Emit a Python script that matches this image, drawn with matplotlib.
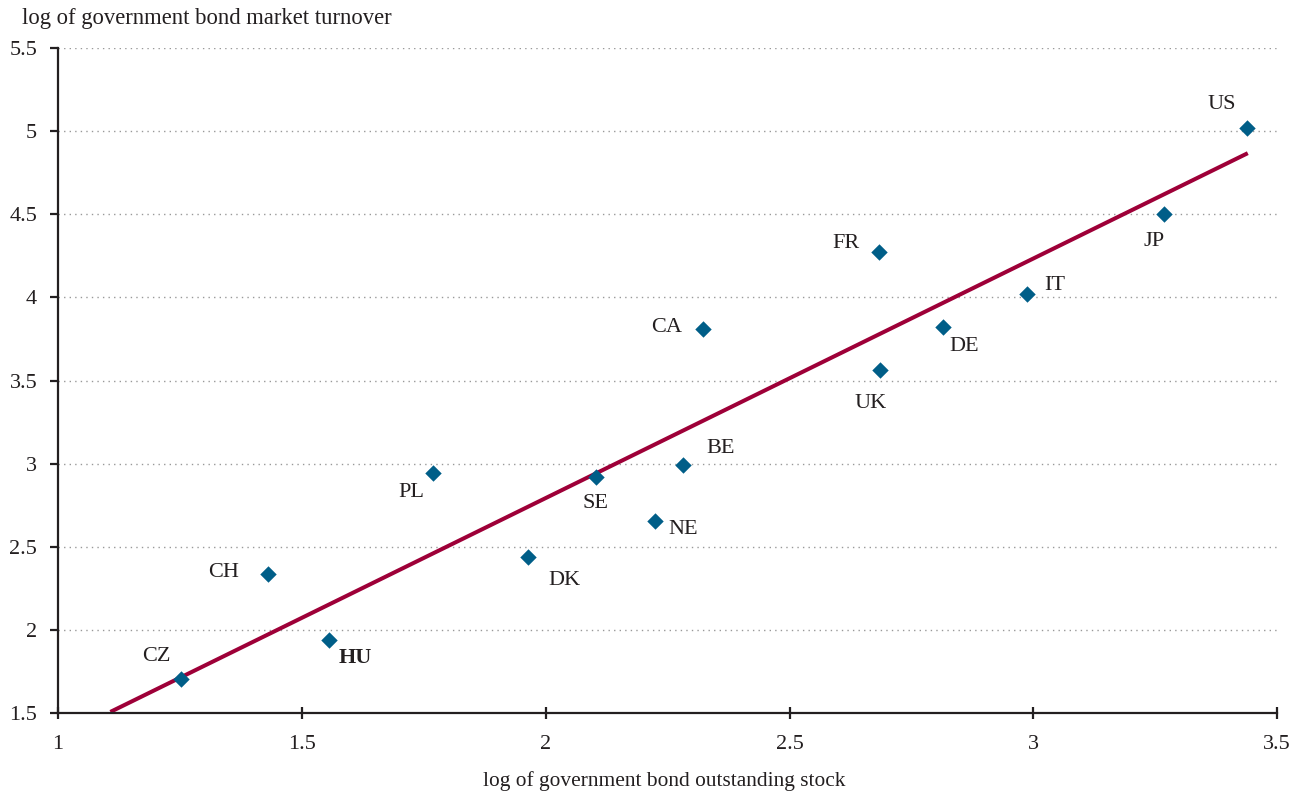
import numpy as np
import matplotlib.pyplot as plt

plt.rcParams['font.family'] = ['Liberation Serif', 'DejaVu Serif']

# data
countries = ['US', 'JP', 'FR', 'IT', 'DE', 'UK', 'CA', 'BE', 'SE', 'NE',
             'PL', 'DK', 'CH', 'HU', 'CZ']
stock = [3.438, 3.268, 2.684, 2.987, 2.815, 2.686, 2.323, 2.282, 2.103, 2.224,
         1.769, 1.964, 1.431, 1.556, 1.252]
turnover = [5.019, 4.502, 4.273, 4.020, 3.822, 3.563, 3.810, 2.992, 2.920, 2.655,
            2.944, 2.438, 2.336, 1.939, 1.705]
# trend line as drawn in the reference (slope, intercept, x range)
trend_k, trend_b = 1.441, -0.089
trend_x = [1.111, 3.436]

# label offsets in points
offsets = {'US': (-18, 17), 'JP': (-7, -20), 'FR': (-24, 6), 'IT': (20, 6),
           'DE': (15, -14), 'UK': (-7, -24), 'CA': (-26, 1), 'BE': (27, 12),
           'SE': (0, -19), 'NE': (20, -6), 'PL': (-16, -14), 'DK': (26, -17),
           'CH': (-32, 1), 'HU': (19, -13), 'CZ': (-18, 16)}

fig = plt.figure(figsize=(12.99, 7.94), dpi=100)
ax = fig.add_axes([0.0447, 0.102, 0.9385, 0.8375])

tx = np.array(trend_x)
ax.plot(tx, trend_k * tx + trend_b, color='#9e0038', lw=2.9, zorder=2)

ax.scatter(stock, turnover, marker='D', s=70, color='#005e88', zorder=3, linewidths=0)

for c, xv, yv in zip(countries, stock, turnover):
    dx, dy = offsets[c]
    ax.annotate(c, (xv, yv), xytext=(dx, dy), textcoords='offset points',
                ha='center', va='center', fontsize=16, color='#231f20',
                fontweight='bold' if c == 'HU' else 'normal')

ax.set_xlim(1, 3.5)
ax.set_ylim(1.5, 5.5)
ax.set_xticks([1, 1.5, 2, 2.5, 3, 3.5])
ax.set_xticklabels(['1', '1.5', '2', '2.5', '3', '3.5'])
ax.set_yticks([1.5, 2, 2.5, 3, 3.5, 4, 4.5, 5, 5.5])
ax.set_yticklabels(['1.5', '2', '2.5', '3', '3.5', '4', '4.5', '5', '5.5'])
ax.yaxis.grid(True, linestyle=(0, (1, 3)), color='#999999', lw=1)
ax.set_axisbelow(True)

for s in ['top', 'right']:
    ax.spines[s].set_visible(False)
for s in ['left', 'bottom']:
    ax.spines[s].set_linewidth(1.6)
    ax.spines[s].set_color('#231f20')
ax.tick_params(axis='y', direction='out', length=6, width=1.6, labelsize=16,
               pad=9, colors='#231f20')
ax.tick_params(axis='x', direction='inout', length=8, width=1.6, labelsize=16,
               pad=12, colors='#231f20')

fig.text(0.017, 0.977, 'log of government bond market turnover', fontsize=16.3,
         va='center', ha='left', color='#231f20')
fig.text(0.511, 0.004, 'log of government bond outstanding stock', fontsize=15.4,
         va='bottom', ha='center', color='#231f20')

fig.savefig('out.png', dpi=100)
